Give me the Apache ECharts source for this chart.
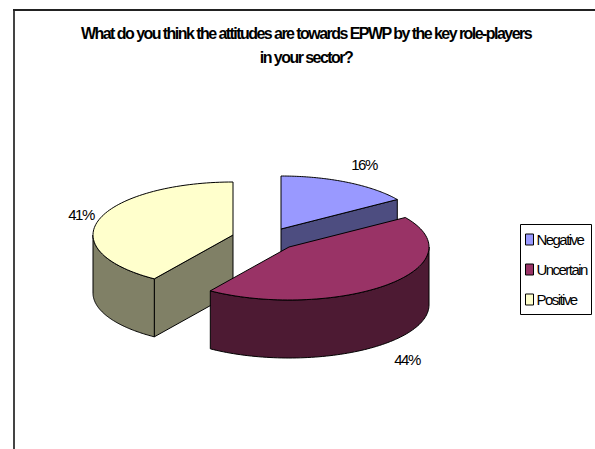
<!DOCTYPE html>
<html><head><meta charset="utf-8">
<style>html,body{margin:0;padding:0;background:#fff}#c{width:595px;height:449px}#c text{letter-spacing:-1.55px}</style>
<script src="https://cdn.jsdelivr.net/npm/echarts@6/dist/echarts.min.js"></script>
</head><body><div id="c"></div>
<script>
const categories = ['Negative','Uncertain','Positive'];
const values = [15.6, 43.9, 40.5];
const percentLabels = ['16%','44%','41%'];
const topColors = ['#9999FF','#993366','#FFFFCC'];
const sideColors = ['#4D4D80','#4D1A33','#808066'];
const centers = [[281,229],[289,247],[233,235]];
const labelPositions = [[364,164],[407,359],[81,214]];
const drawOrder = [1,3,2];
const RX=140, RY=53, DEPTH=58;
const total = values.reduce((a,b)=>a+b,0);
let acc=0;
const spans = values.map(v=>{const s=acc/total*2*Math.PI; acc+=v; return [s,acc/total*2*Math.PI];});
const font = 'Liberation Sans, Arial, sans-serif';

function pt(c,t,d){return [c[0]+RX*Math.sin(t), c[1]-RY*Math.cos(t)+(d||0)];}
function arc(c,a,b,d){const out=[],n=80;for(let i=0;i<=n;i++)out.push(pt(c,a+(b-a)*i/n,d));return out;}
function poly(points,fill){return {type:'polygon',shape:{points},style:{fill,stroke:'#000',lineWidth:1,lineJoin:'round'}};}

const series = categories.map((name,i)=>({
  name, type:'custom', coordinateSystem:'none', z:drawOrder[i],
  data:[[values[i]]], silent:true,
  renderItem(){
    const c=centers[i], [a,b]=spans[i], kids=[];
    if(i===0){const e=pt(c,b),f=pt(c,b,DEPTH);kids.push(poly([c,e,f,[c[0],c[1]+DEPTH]],sideColors[i]));}
    if(i===2){const e=pt(c,a),f=pt(c,a,DEPTH);kids.push(poly([c,e,f,[c[0],c[1]+DEPTH]],sideColors[i]));}
    const fa=Math.max(a,Math.PI/2), fb=Math.min(b,1.5*Math.PI);
    if(fb>fa){kids.push(poly(arc(c,fa,fb,0).concat(arc(c,fb,fa,DEPTH)),sideColors[i]));}
    kids.push(poly([c].concat(arc(c,a,b,0)),topColors[i]));
    const lp=labelPositions[i];
    kids.push({type:'text',x:lp[0],y:lp[1],style:{text:percentLabels[i],fill:'#000',font:'15px '+font,textAlign:'center',textVerticalAlign:'middle'}});
    return {type:'group',children:kids};
  }
}));

const chart = echarts.init(document.getElementById('c'),null,{renderer:'svg',width:595,height:449});
chart.setOption({
  animation:false,
  backgroundColor:'#fff',
  title:{
    text:'What do you think the attitudes are towards EPWP by the key role-players\nin your sector?',
    left:301, top:16, textAlign:'center',
    textStyle:{fontFamily:font,fontSize:16,fontWeight:'bold',color:'#000',lineHeight:24}
  },
  legend:{
    orient:'vertical', left:525, top:232, z:5,
    data:categories.map((name,i)=>({name,icon:'rect',itemStyle:{color:topColors[i],borderColor:'#000',borderWidth:1}})),
    itemWidth:8,itemHeight:11,itemGap:15,padding:0,
    selectedMode:false,
    textStyle:{fontFamily:font,fontSize:15,color:'#000',padding:[0,0,0,-2]}
  },
  graphic:[
    {type:'line',shape:{x1:14,y1:10,x2:14,y2:449},style:{stroke:'#444',lineWidth:2},z:0},
    {type:'line',shape:{x1:13,y1:10,x2:595,y2:10},style:{stroke:'#222',lineWidth:2},z:0},
    {type:'rect',shape:{x:520.5,y:224.5,width:71,height:90},style:{fill:'#fff',stroke:'#000',lineWidth:1},z:1}
  ],
  series
});
</script></body></html>
